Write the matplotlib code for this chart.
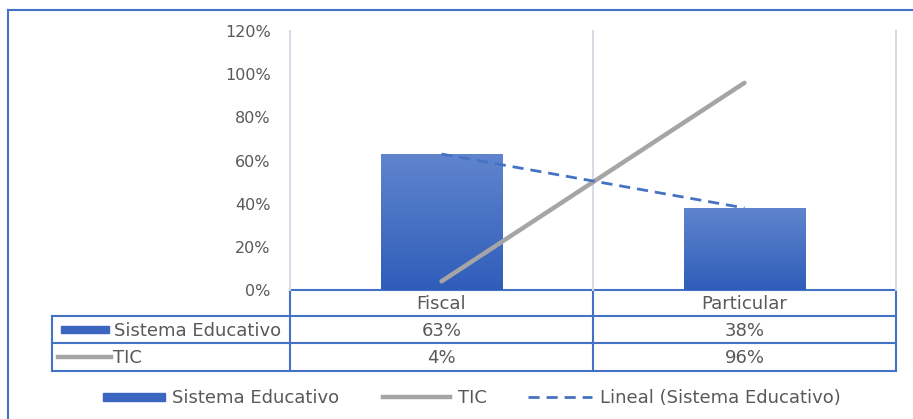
import numpy as np
import matplotlib
matplotlib.use("Agg")
import matplotlib.pyplot as plt
from matplotlib.colors import LinearSegmentedColormap

# Chart data
categories = ["Fiscal", "Particular"]
sistema_educativo = [0.63, 0.38]
tic = [0.04, 0.96]
series_names = ["Sistema Educativo", "TIC", "Lineal (Sistema Educativo)"]
y_ticks = [0, 0.2, 0.4, 0.6, 0.8, 1.0, 1.2]

plt.rcParams['font.family'] = ['DejaVu Sans']

W, H = 913, 419
BLUE = "#4472C4"
GRAY = "#A5A5A5"
TXT = "#595959"
FS_TICK = 11.5
FS = 13

fig = plt.figure(figsize=(W / 100, H / 100), dpi=100)

# overlay in pixel coordinates for border, table and legend
ov = fig.add_axes([0, 0, 1, 1])
ov.set_xlim(0, W)
ov.set_ylim(H, 0)
ov.axis("off")

# plot area
left, right, top, bottom = 290, 896, 31, 290
ax = fig.add_axes([left / W, 1 - bottom / H, (right - left) / W, (bottom - top) / H])
ax.set_facecolor("none")
x = np.arange(len(categories))

bars = ax.bar(x, sistema_educativo, width=0.4, color="#3F6CC6", zorder=2)
cmap = LinearSegmentedColormap.from_list("g", ["#2F5DB9", "#6085CE"])
grad = np.linspace(0, 1, 256).reshape(-1, 1)
for b in bars:
    im = ax.imshow(grad, extent=[b.get_x(), b.get_x() + b.get_width(), 0, b.get_height()],
                   origin="lower", aspect="auto", cmap=cmap, zorder=2)
    im.set_clip_path(b)

ax.plot(x, tic, color=GRAY, lw=3.2, solid_capstyle="round", zorder=3)
# linear trend of Sistema Educativo
coef = np.polyfit(x, sistema_educativo, 1)
ax.plot(x, np.polyval(coef, x), color=BLUE, lw=2, ls=(0, (4, 2.5)), zorder=4)

ax.set_xlim(-0.5, len(categories) - 0.5)
ax.set_ylim(0, 1.2)
ax.set_yticks(y_ticks)
ax.set_yticklabels([f"{int(round(v * 100))}%" for v in y_ticks], color=TXT, fontsize=FS_TICK)
ax.tick_params(axis="y", length=0, pad=14)
ax.set_xticks([])
for xv in np.arange(-0.5, len(categories), 1.0):
    ax.axvline(xv, color="#D6DAE6", lw=1.4, zorder=1, clip_on=False)
for s in ax.spines.values():
    s.set_visible(False)

# outer border
ov.plot([8, W + 5], [10, 10], color=BLUE, lw=1.5)
ov.plot([8, 8], [10, H + 5], color=BLUE, lw=1.5)

# data table
col_edges = [left + i * (right - left) / len(categories) for i in range(len(categories) + 1)]
row_edges = [290, 316, 343, 371]
tbl_left = 52
lw_t = 1.5
ov.plot([left, right], [row_edges[0]] * 2, color=BLUE, lw=lw_t)
for yv in row_edges[1:]:
    ov.plot([tbl_left, right], [yv, yv], color=BLUE, lw=lw_t)
ov.plot([tbl_left, tbl_left], [row_edges[1], row_edges[3]], color=BLUE, lw=lw_t)
for xv in col_edges:
    ov.plot([xv, xv], [row_edges[0], row_edges[3]], color=BLUE, lw=lw_t)

for i, c in enumerate(categories):
    cx = (col_edges[i] + col_edges[i + 1]) / 2
    ov.text(cx, (row_edges[0] + row_edges[1]) / 2 + 1, c, ha="center", va="center", color=TXT, fontsize=FS)
    ov.text(cx, (row_edges[1] + row_edges[2]) / 2 + 1, f"{int(round(sistema_educativo[i] * 100))}%",
            ha="center", va="center", color=TXT, fontsize=FS)
    ov.text(cx, (row_edges[2] + row_edges[3]) / 2 + 1, f"{int(round(tic[i] * 100))}%",
            ha="center", va="center", color=TXT, fontsize=FS)

# row keys
y1 = (row_edges[1] + row_edges[2]) / 2
y2 = (row_edges[2] + row_edges[3]) / 2
ov.add_patch(plt.Rectangle((61, y1 - 3.5), 48, 7, color="#3A66C2"))
ov.text(114, y1 + 1, series_names[0], ha="left", va="center", color=TXT, fontsize=FS)
ov.plot([58, 111], [y2, y2], color=GRAY, lw=3.2)
ov.text(113, y2 + 1, series_names[1], ha="left", va="center", color=TXT, fontsize=FS)

# legend
ly = 397
ov.add_patch(plt.Rectangle((103, ly - 4), 62, 8, color="#3A66C2"))
ov.text(172, ly + 1, series_names[0], ha="left", va="center", color=TXT, fontsize=FS)
ov.plot([383, 450], [ly, ly], color=GRAY, lw=3.2)
ov.text(458, ly + 1, series_names[1], ha="left", va="center", color=TXT, fontsize=FS)
ov.plot([528, 592], [ly, ly], color=BLUE, lw=2, ls=(0, (4, 2.5)))
ov.text(600, ly + 1, series_names[2], ha="left", va="center", color=TXT, fontsize=FS)

fig.savefig("out.png", dpi=100)
